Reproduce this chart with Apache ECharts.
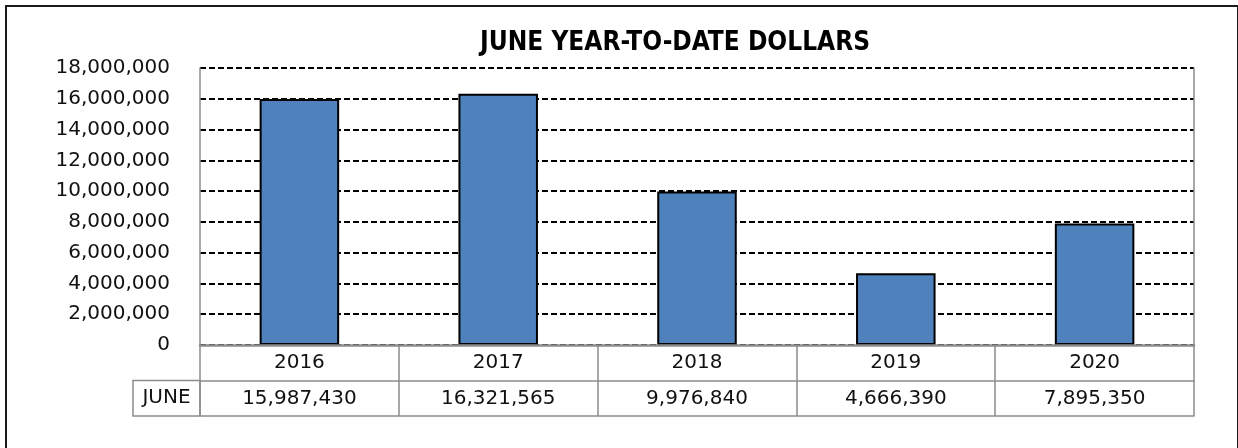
<!DOCTYPE html>
<html>
<head>
<meta charset="utf-8">
<script src="https://cdn.jsdelivr.net/npm/echarts@6/dist/echarts.min.js"></script>
<style>
html,body{margin:0;padding:0;background:#fff;}
#chart{width:1238px;height:448px;}
</style>
</head>
<body>
<div id="chart"></div>
<script>
var categories = ['2016', '2017', '2018', '2019', '2020'];
var juneValues = [15987430, 16321565, 9976840, 4666390, 7895350];
var rowLabel = 'JUNE';
var titleText = 'JUNE YEAR-TO-DATE DOLLARS';
var yMin = 0, yMax = 18000000, yInterval = 2000000;

var W = 1238, H = 448;
var gridLeft = 200, gridRight = 44, gridTop = 68, gridBottom = 103;
var rowH = 35.5;
var lineGrey = '#8c8c8c';
var font = 'DejaVu Sans';

function fmt(v){ return String(v).replace(/\B(?=(\d{3})+(?!\d))/g, ','); }

var chart = echarts.init(document.getElementById('chart'), null, {renderer:'canvas'});
var plotBottom = H - gridBottom;

var option = {
  animation: false,
  backgroundColor: '#fff',
  title: {
    text: titleText,
    left: 675, top: 30, textAlign: 'center', padding: 0,
    textStyle: { fontFamily: 'DejaVu Sans Condensed', fontWeight: 'bold', fontSize: 26, color: '#000' }
  },
  grid: { left: gridLeft, right: gridRight, top: gridTop, bottom: gridBottom, containLabel: false },
  xAxis: [
    {
      type: 'category', data: categories, position: 'bottom', z: 5,
      axisLine: { show: true, onZero: false, lineStyle: { color: lineGrey, width: 2.5 } },
      axisTick: { show: true, length: rowH * 2, interval: 0, lineStyle: { color: lineGrey, width: 1.5 } },
      axisLabel: { margin: 8, fontFamily: font, fontSize: 20, color: '#111' },
      splitLine: { show: false }
    },
    {
      type: 'category', data: categories, position: 'bottom', offset: rowH,
      axisLine: { show: true, onZero: false, lineStyle: { color: lineGrey, width: 1.5 } },
      axisTick: { show: false },
      axisLabel: { margin: 8, fontFamily: font, fontSize: 20, color: '#111',
        formatter: function(v, i){ return fmt(juneValues[i]); } },
      splitLine: { show: false }
    },
    {
      type: 'category', data: categories, position: 'bottom', offset: rowH * 2,
      axisLine: { show: true, onZero: false, lineStyle: { color: lineGrey, width: 1.5 } },
      axisTick: { show: false }, axisLabel: { show: false }, splitLine: { show: false }
    }
  ],
  yAxis: [
    {
      type: 'value', min: yMin, max: yMax, interval: yInterval, position: 'left',
      axisLine: { show: true, lineStyle: { color: lineGrey, width: 1.5 } },
      axisTick: { show: false },
      axisLabel: { margin: 30, fontFamily: font, fontSize: 20, color: '#111', formatter: function(v){ return fmt(v); } },
      splitLine: { show: true, lineStyle: { color: '#000', width: 2, type: [6, 3] } }
    },
    {
      type: 'value', min: yMin, max: yMax, interval: yInterval, position: 'right',
      axisLine: { show: true, lineStyle: { color: lineGrey, width: 1.5 } },
      axisTick: { show: false }, axisLabel: { show: false }, splitLine: { show: false }
    }
  ],
  series: [
    {
      type: 'bar', data: juneValues, xAxisIndex: 0, yAxisIndex: 0,
      barWidth: '40%',
      itemStyle: { color: '#4F81BD', borderColor: '#000', borderWidth: 2 }
    }
  ],
  graphic: [
    {
      type: 'rect', silent: true, z: -1,
      shape: { x: 6, y: 6, width: W - 6, height: H + 20 },
      style: { fill: null, stroke: '#1a1a1a', lineWidth: 2 }
    },
    {
      type: 'rect', silent: true,
      shape: { x: 133, y: plotBottom + rowH, width: gridLeft - 133, height: rowH },
      style: { fill: null, stroke: lineGrey, lineWidth: 1.5 }
    },
    {
      type: 'text', silent: true,
      x: (133 + gridLeft) / 2, y: plotBottom + rowH * 1.5,
      style: { text: rowLabel, fontFamily: font, fontSize: 20, fill: '#111', align: 'center', verticalAlign: 'middle' }
    }
  ]
};
chart.setOption(option);
</script>
</body>
</html>
